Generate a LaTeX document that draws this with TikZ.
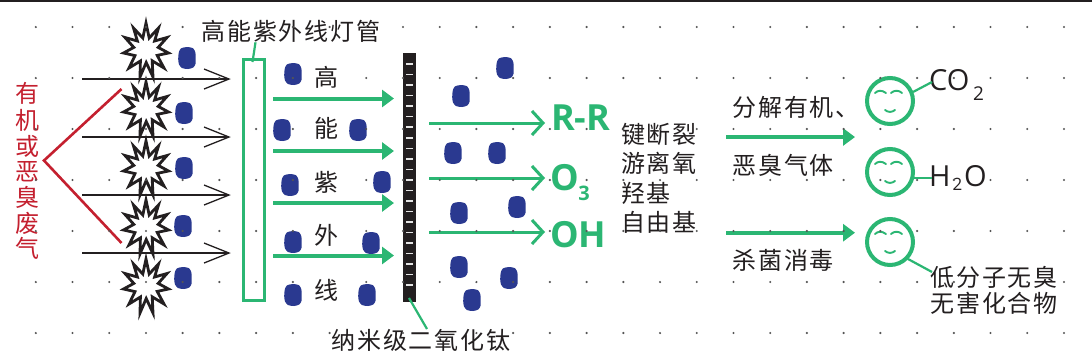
\documentclass[tikz,border=0pt]{standalone}
\usepackage{fontspec}
\setmainfont{Noto Sans CJK SC}
\newfontfamily\cjkwide[LetterSpace=7]{Noto Sans CJK SC}
\newfontfamily\latinface{Open Sans}
\usetikzlibrary{arrows.meta}
\definecolor{uvgreen}{HTML}{2BB673}
\definecolor{odorred}{HTML}{C4202F}
\definecolor{molblue}{HTML}{2A3990}
\definecolor{inkblack}{HTML}{231F20}
\definecolor{griddot}{HTML}{555555}
\tikzset{
  x=1pt,y=-1pt,
  cn/.style={font=\cjkwide\fontsize{24}{24}\selectfont,text=inkblack,inner sep=0pt,anchor=center},
  cnblock/.style={font=\cjkwide\fontsize{24}{29.4}\selectfont,text=inkblack,inner sep=0pt,align=left,anchor=north west},
  redchar/.style={font=\fontsize{24}{24}\selectfont,text=odorred,inner sep=0pt,anchor=center},
  species/.style={font=\latinface\bfseries\fontsize{36}{36}\selectfont,text=uvgreen,inner sep=0pt,anchor=west},
  formula/.style={font=\latinface\fontsize{29}{29}\selectfont,text=inkblack,inner sep=0pt,anchor=west},
  leader/.style={draw=uvgreen,line width=2.2pt},
  beam/.style={draw=uvgreen,line width=4pt,-{Triangle[length=12pt,width=17pt]}},
  flow/.style={draw=uvgreen,line width=3pt,-{Straight Barb[length=11pt,width=24pt,line width=3pt]}},
  lamp/.style={draw=inkblack,line width=1.3pt},
  face/.style={draw=uvgreen,line width=4pt,fill=white,circle,minimum size=46pt,inner sep=0pt},
  feature/.style={draw=uvgreen,line width=1.9pt,line cap=round},
  blob/.pic={\fill[molblue] plot[smooth cycle,tension=0.45] coordinates {
     (-6,-9.6) (0,-11) (6,-9.8) (8.4,-5.5) (8.6,0) (8.6,5.5) (6.4,9.4) (1,11) (-5,10) (-8,6.4) (-8.8,1) (-8.2,-5.6)};},
  burst/.pic={\draw[draw=inkblack,fill=white,line width=2.8pt,miter limit=40,line join=miter]
     (0,-27)--(3.2,-12)--(12.5,-22)--(8.6,-9)--(21,-12.5)--(12.2,-2.6)--(22.5,3)--(11.2,5.4)
     --(18,18)--(6.2,10.8)--(7,27)--(0.2,12.5)--(-6,27)--(-5.6,11)--(-17,18)
     --(-11,5.6)--(-22.5,3)--(-12.2,-2.6)--(-21,-12.5)--(-8.6,-9)--(-12.5,-22)--(-3.2,-12)--cycle;},
}
\begin{document}
\begin{tikzpicture}
\useasboundingbox (0,0) rectangle (1092,362);
\fill[white] (0,0) rectangle (1092,362);
\fill[inkblack] (0,0) rectangle (1092,1.6);

% bursts of odour molecules
\foreach \y in {50,109,168,227,286} \pic at (146,\y) {burst};

% incoming air lines
\foreach \n/\y in {a/79,b/137,c/195,d/253}{
  \coordinate (in\n) at (82,\y);
  \coordinate (out\n) at (229,\y);
  \draw[lamp] (in\n) -- (out\n);
  \draw[lamp] (204,\y-10) -- (out\n) -- (204,\y+10);
}

% molecules
\foreach \x/\y in {187/58,184/113,184/168,183/226,183/278,
  293/74,282/130,290/185,293/242,293/295,
  358/130,382/182,371/243,367/295,
  505/68,461/96,453/153,497/153,517/207,459/213,459/267,509/278,472/300}
  \pic at (\x,\y) {blob};

% source label and bracket
\foreach \i/\c/\y in {1/有/93,2/机/120,3/或/146,4/恶/172,5/臭/197,6/废/223,7/气/248}
  \node[redchar] (src\i) at (28,\y) {\c};
\coordinate (brUp) at (121.5,89);
\coordinate (brTip) at (44,160.5);
\coordinate (brLow) at (121.5,243);
\draw[odorred,line width=2.6pt] (brUp) -- (brTip) -- (brLow);

% UV lamp tube
\node[draw=uvgreen,line width=3pt,inner sep=0pt,minimum width=21pt,minimum height=241pt,anchor=north west] (tube) at (241.5,58) {};
\node[cn] (tubelabel) at (291,31) {高能紫外线灯管};
\draw[leader] (tubelabel.south -| 255.5,39) -- (252.5,62);

% UV beams
\foreach \n/\y in {a/98.5,b/151,c/203,d/255.5}{
  \coordinate (bs\n) at (273,\y);
  \coordinate (be\n) at (394,\y);
  \draw[beam] (bs\n) -- (be\n);
}
\foreach \i/\c/\y in {1/高/77,2/能/128,3/紫/182,4/外/235,5/线/290}
  \node[cn] (uv\i) at (326,\y) {\c};

% nano titanium dioxide plate
\node[fill=inkblack,inner sep=0pt,minimum width=13.4pt,minimum height=249pt,anchor=north west] (plate) at (402.8,53) {};
\foreach \k in {0,...,21}
  \fill[white!90!black] (406,63.3+\k*10.53) rectangle (413.3,64.8+\k*10.53);
\node[cn] (platelabel) at (421,340) {纳米级二氧化钛};
\draw[leader] (409,298) -- (427,329);

% reactive species
\foreach \n/\y in {a/123,b/178,c/232}{
  \coordinate (fs\n) at (429,\y);
  \coordinate (fe\n) at (545,\y);
  \draw[flow] (fs\n) -- (fe\n);
}
\node[species] (rr) at (551,118) {R-R};
\node[species] (ozone) at (550,178) {O};
\node[font=\latinface\bfseries\fontsize{20}{20}\selectfont,text=uvgreen,inner sep=0pt] (ozonesub) at (584,193) {3};
\node[species] (oh) at (550,235) {OH};

\node[cnblock] (mech) at (621,123) {键断裂\\游离氧\\羟基\\自由基};

% decomposition and sterilisation
\node[cn,anchor=west] (decompA) at (732.5,107) {分解有机、};
\node[cn,anchor=west] (decompB) at (732.5,165) {恶臭气体};
\node[cn,anchor=west] (sterile) at (732.5,260) {杀菌消毒};
\coordinate (d1) at (726,137);
\coordinate (d2) at (855,137);
\coordinate (s1) at (726,232.7);
\coordinate (s2) at (855,232.7);
\draw[beam] (d1) -- (d2);
\draw[beam] (s1) -- (s2);

% smiling faces
\foreach \n/\y in {fa/101,fb/172,fc/242}{
  \node[face] (\n) at (890,\y) {};
  \draw[feature] (875,\y-8) .. controls (878,\y-11) and (882,\y-11) .. (886,\y-8);
  \draw[feature] (891,\y-8) .. controls (894,\y-11) and (899,\y-11) .. (902,\y-8);
  \draw[feature] (885,\y+9) .. controls (888,\y+11.5) and (892,\y+11.5) .. (895,\y+9);
}

% products
\node[formula] (co) at (929,80) {CO};
\node[font=\latinface\fontsize{19}{19}\selectfont,text=inkblack,inner sep=0pt] (cosub) at (978.5,94) {2};
\node[formula] (hh) at (929,176) {H};
\node[font=\latinface\fontsize{17}{17}\selectfont,text=inkblack,inner sep=0pt] (hsub) at (957.5,184) {2};
\node[formula] (oo) at (964,176) {O};
\node[cn,anchor=west] (lowA) at (930.5,277) {低分子无臭};
\node[cn,anchor=west] (lowB) at (930.5,303) {无害化合物};
\draw[leader] (fa) ++(23,-9) -- (932,82);
\draw[leader] (fb) ++(24,6) -- (932,178);
\draw[leader] (fc) ++(18,17) -- (932,272);

% dotted grid
\foreach \r in {0,...,6}
  \foreach \c in {0,...,28}
    \fill[griddot] (35.8+\c*36.72,27+\r*51) circle (1.2pt);
\end{tikzpicture}
\end{document}
